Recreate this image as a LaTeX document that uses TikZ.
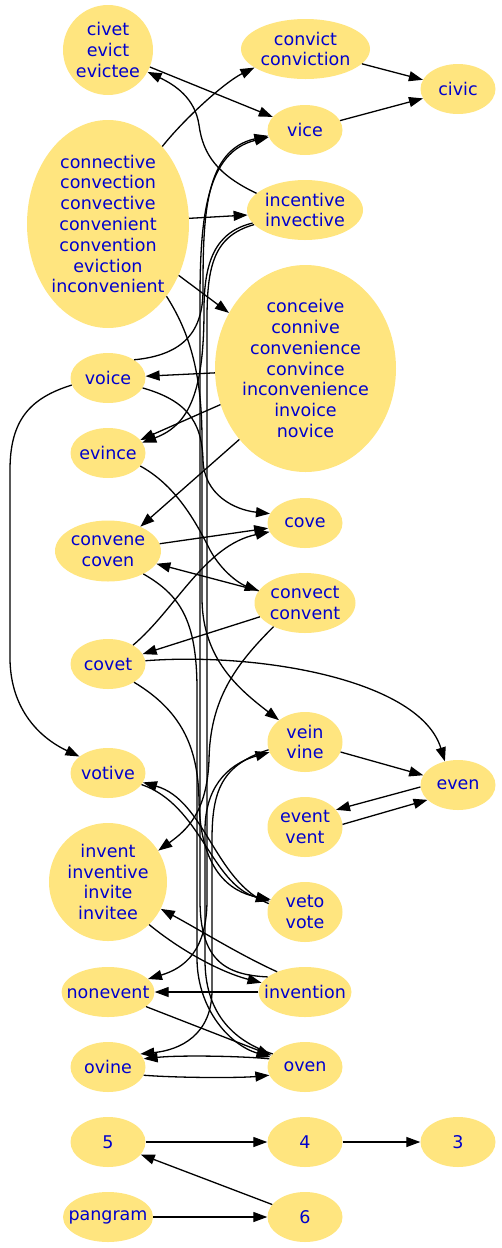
\documentclass[tikz,border=0pt]{standalone}
\usepackage{fontspec}
\newfontfamily\wfont{DejaVu Sans}
\usetikzlibrary{shapes.geometric,arrows.meta}
\definecolor{nodefill}{RGB}{255,229,127}
\definecolor{txtblue}{RGB}{0,0,205}
\tikzset{
  txt/.style={text=txtblue, font=\wfont\fontsize{17.5}{20.8}\selectfont, align=center, inner sep=0pt},
  wn/.style n args={3}{ellipse, fill=nodefill, draw=none, inner sep=0pt, minimum width=#1, minimum height=#2, label={[txt]center:{#3}}},
  edg/.style={draw=black, line width=1.3pt, -{Triangle[length=14pt,width=10pt]}}
}
\begin{document}
\begin{tikzpicture}[x=1pt,y=-1pt]
\useasboundingbox (0,0) rectangle (502,1248);
\node[wn={90pt}{90pt}{civet\\evict\\evictee}] (civet) at (108,50) {};
\node[wn={129pt}{60pt}{convict\\conviction}] (convict) at (305.5,49) {};
\node[wn={75pt}{50pt}{civic}] (civic) at (458,89) {};
\node[wn={75pt}{50pt}{vice}] (vice) at (305,130) {};
\node[wn={162pt}{208pt}{connective\\convection\\convective\\convenient\\convention\\eviction\\inconvenient}] (connective) at (108,224) {};
\node[wn={116pt}{60pt}{incentive\\invective}] (incentive) at (305,210) {};
\node[wn={181pt}{207pt}{conceive\\connive\\convenience\\convince\\inconvenience\\invoice\\novice}] (conceive) at (305.5,368.5) {};
\node[wn={75pt}{50pt}{voice}] (voice) at (108,378) {};
\node[wn={75pt}{50pt}{evince}] (evince) at (108,453) {};
\node[wn={75pt}{50pt}{cove}] (cove) at (305,523) {};
\node[wn={106pt}{61pt}{convene\\coven}] (convene) at (108,551) {};
\node[wn={101pt}{60pt}{convect\\convent}] (convect) at (305,603) {};
\node[wn={75pt}{50pt}{covet}] (covet) at (108,664) {};
\node[wn={75pt}{60pt}{vein\\vine}] (vein) at (305,742) {};
\node[wn={75pt}{50pt}{votive}] (votive) at (108,773) {};
\node[wn={75pt}{50pt}{even}] (even) at (458,785) {};
\node[wn={75pt}{60pt}{event\\vent}] (event) at (305,827) {};
\node[wn={118pt}{118pt}{invent\\inventive\\invite\\invitee}] (invent) at (108,882) {};
\node[wn={75pt}{60pt}{veto\\vote}] (veto) at (305,912) {};
\node[wn={93pt}{50pt}{nonevent}] (nonevent) at (108,992) {};
\node[wn={93pt}{50pt}{invention}] (invention) at (305,992) {};
\node[wn={75pt}{50pt}{ovine}] (ovine) at (108,1067) {};
\node[wn={75pt}{50pt}{oven}] (oven) at (305,1067) {};
\node[wn={75pt}{50pt}{5}] (n5) at (108,1142) {};
\node[wn={75pt}{50pt}{4}] (n4) at (305,1142) {};
\node[wn={75pt}{50pt}{3}] (n3) at (458,1142) {};
\node[wn={90pt}{50pt}{pangram}] (pangram) at (108,1217) {};
\node[wn={75pt}{50pt}{6}] (n6) at (305,1217) {};

\draw[edg] (civet) -- (vice);
\draw[edg] (convict) -- (civic);
\draw[edg] (vice) -- (civic);
\draw[edg] (connective.55) .. controls (185,118) and (225,82) .. (convict.200);
\draw[edg] (connective.4) -- (incentive.185);
\draw[edg] (connective.-36) -- (conceive.144);
\draw[edg] (incentive.161) .. controls (218,175) and (203,155) .. (199,125) .. controls (195,98) and (175,85) .. (civet.-29);
\draw[edg] (voice.35) .. controls (185,355) and (203,330) .. (203,290) .. controls (203,215) and (205,150) .. (vice.189);
\draw[edg] (invention.158) .. controls (225,975) and (200,960) .. (200,900) -- (200,300) .. controls (200,215) and (207,152) .. (vice.191);
\draw[edg] (incentive.194) .. controls (215,232) and (204,262) .. (204,310) .. controls (204,390) and (190,425) .. (evince.17);
\draw[edg] (incentive.196) .. controls (214,236) and (207,265) .. (207,320) -- (207,900) .. controls (207,950) and (185,968) .. (nonevent.18);
\draw[edg] (conceive) -- (voice);
\draw[edg] (conceive.203) -- (evince.22);
\draw[edg] (conceive.227) -- (convene.37);
\draw[edg] (connective.-51) .. controls (188,330) and (202,370) .. (202,440) -- (202,600) .. controls (203,660) and (240,690) .. (vein.140);
\draw[edg] (voice.-16) .. controls (185,400) and (202,420) .. (203,460) .. controls (204,495) and (235,510) .. (cove.165);
\draw[edg] (evince.-22) .. controls (175,485) and (195,520) .. (210,550) .. controls (222,572) and (240,584) .. (convect.165);
\draw[edg] (convene.8) -- (cove.188);
\draw[edg] (convect) -- (convene);
\draw[edg] (covet.37) .. controls (175,610) and (205,545) .. (cove.194);
\draw[edg] (convect.197) -- (covet.16);
\draw[edg] (covet.5) .. controls (260,652) and (420,680) .. (even.119);
\draw[edg] (convect.217) .. controls (235,665) and (210,700) .. (209,760) .. controls (207,812) and (187,830) .. (invent.32);
\draw[edg] (voice.191) .. controls (30,398) and (10,420) .. (10,470) -- (10,660) .. controls (11,710) and (40,738) .. (votive.150);
\draw[edg] (vein) -- (even);
\draw[edg] (even.183) -- (event.29);
\draw[edg] (event.4) -- (even.206);
\draw[edg] (veto.167) .. controls (215,882) and (205,800) .. (votive.-15);
\draw[edg] (votive.-19) .. controls (201,805) and (211,884) .. (veto.163);
\draw[edg] (covet.-35) .. controls (180,710) and (198,745) .. (199,800) .. controls (200,870) and (230,892) .. (veto.160);
\draw[edg] (convene.-33) .. controls (180,595) and (197,620) .. (197,690) -- (197,960) .. controls (198,1010) and (230,1045) .. (oven.164);
\draw[edg] (invent.-46) .. controls (180,950) and (220,972) .. (invention.168);
\draw[edg] (invention.144) .. controls (240,955) and (200,930) .. (invent.-27);
\draw[edg] (invention) -- (nonevent);
\draw[edg] (nonevent.-21) -- (oven.161);
\draw[edg] (oven.167) .. controls (240,1056) and (180,1055) .. (ovine.13);
\draw[edg] (ovine.-13) .. controls (180,1078) and (240,1078) .. (oven.-167);
\draw[edg] (vein.192) .. controls (222,765) and (212,790) .. (212,840) -- (212,990) .. controls (212,1035) and (180,1050) .. (ovine.22);
\draw[edg] (oven.158) .. controls (230,1040) and (205,1010) .. (205,960) -- (205,830) .. controls (205,790) and (225,765) .. (vein.196);
\draw[edg] (n5) -- (n4);
\draw[edg] (n4) -- (n3);
\draw[edg] (n6) -- (n5);
\draw[edg] (pangram) -- (n6);
\end{tikzpicture}
\end{document}
